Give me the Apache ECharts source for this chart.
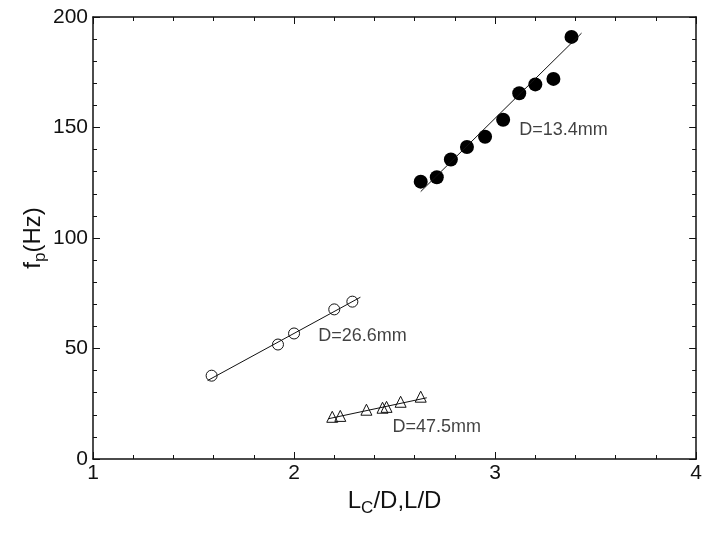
<!DOCTYPE html>
<html>
<head>
<meta charset="utf-8">
<script src="https://cdn.jsdelivr.net/npm/echarts@6/dist/echarts.min.js"></script>
<style>
html, body { margin: 0; padding: 0; background: #fff; }
#main { width: 705px; height: 535px; }
</style>
</head>
<body>
<div id="main"></div>
<script>
// D = 13.4 mm (filled circles)
var x134 = [2.63, 2.71, 2.78, 2.86, 2.95, 3.04, 3.12, 3.20, 3.29, 3.38];
var y134 = [125.5, 127.5, 135.5, 141.2, 145.8, 153.5, 165.5, 169.5, 172, 191];
var fit134 = [[2.63, 121], [3.43, 192.7]];

// D = 26.6 mm (open circles)
var x266 = [1.59, 1.92, 2.00, 2.20, 2.29];
var y266 = [37.7, 51.8, 56.8, 67.7, 71.2];
var fit266 = [[1.57, 35.5], [2.33, 73.2]];

// D = 47.5 mm (open triangles)
var x475 = [2.19, 2.23, 2.36, 2.44, 2.46, 2.53, 2.63];
var y475 = [19.1, 19.5, 22.3, 23.2, 23.6, 25.9, 28.2];
var fit475 = [[2.17, 18.2], [2.66, 27.7]];

var labelText = ['D=13.4mm', 'D=26.6mm', 'D=47.5mm'];
var labelAt = [[3.12, 149], [2.12, 55.5], [2.49, 14.5]];

function pairs(xs, ys) {
    return xs.map(function (x, i) { return [x, ys[i]]; });
}

var chart = echarts.init(document.getElementById('main'));

var FONT = 'Liberation Sans, Arial, sans-serif';
var INK = '#111';
var tickFont = { color: INK, fontSize: 21, fontFamily: FONT };

function xAxisDef(pos, showLabel) {
    return {
        type: 'value', position: pos, min: 1, max: 4, interval: 1,
        axisLine: { show: true, onZero: false, lineStyle: { color: INK, width: 1.5 } },
        axisTick: { show: true, inside: true, length: 7, lineStyle: { color: INK } },
        minorTick: { show: true, splitNumber: 5, length: 4, lineStyle: { color: INK } },
        axisLabel: Object.assign({ show: showLabel, margin: 4 }, tickFont),
        splitLine: { show: false }
    };
}
function yAxisDef(pos, showLabel) {
    return {
        type: 'value', position: pos, min: 0, max: 200, interval: 50,
        axisLine: { show: true, onZero: false, lineStyle: { color: INK, width: 1.5 } },
        axisTick: { show: true, inside: true, length: 7, lineStyle: { color: INK } },
        minorTick: { show: true, splitNumber: 5, length: 4, lineStyle: { color: INK } },
        axisLabel: Object.assign({ show: showLabel, margin: 5 }, tickFont),
        splitLine: { show: false }
    };
}

var nameRich = {
    a: { fontSize: 24, color: INK, fontFamily: FONT },
    s: { fontSize: 17, color: INK, fontFamily: FONT, padding: [15, 0, 0, 0] }
};

var xMain = xAxisDef('bottom', true);
xMain.name = '{a|L}{s|C}{a|/D,L/D}';
xMain.nameLocation = 'middle';
xMain.nameGap = 25;
xMain.nameTextStyle = { rich: nameRich };

var yMain = yAxisDef('left', true);
yMain.name = '{a|f}{s|p}{a|(Hz)}';
yMain.nameLocation = 'middle';
yMain.nameGap = 44;
yMain.nameMoveOverlap = false;
yMain.nameTextStyle = { rich: nameRich };

function fitLine(d) {
    return {
        type: 'line', data: d, symbol: 'none', silent: true, z: 3,
        lineStyle: { color: INK, width: 1 }
    };
}

var option = {
    animation: false,
    backgroundColor: '#fff',
    grid: { left: 93, right: 8, top: 17, bottom: 76 },
    xAxis: [xMain, xAxisDef('top', false)],
    yAxis: [yMain, yAxisDef('right', false)],
    series: [
        fitLine(fit134), fitLine(fit266), fitLine(fit475),
        {
            type: 'scatter', data: pairs(x134, y134), symbol: 'circle', symbolSize: 14, z: 2,
            itemStyle: { color: '#000', opacity: 1 }
        },
        {
            type: 'scatter', data: pairs(x266, y266), symbol: 'circle', symbolSize: 11, z: 2,
            itemStyle: { color: 'rgba(0,0,0,0)', borderColor: INK, borderWidth: 1, opacity: 1 }
        },
        {
            type: 'scatter', data: pairs(x475, y475), symbol: 'triangle', symbolSize: 11, z: 2,
            itemStyle: { color: 'rgba(0,0,0,0)', borderColor: INK, borderWidth: 1, opacity: 1 }
        },
        {
            type: 'scatter', symbolSize: 0, silent: true,
            data: labelAt.map(function (p, i) { return { value: p, name: labelText[i] }; }),
            label: {
                show: true, position: 'right', distance: 0,
                formatter: '{b}', color: INK, fontSize: 18, fontFamily: FONT
            }
        }
    ]
};

chart.setOption(option);
window.onresize = chart.resize;
</script>
</body>
</html>
